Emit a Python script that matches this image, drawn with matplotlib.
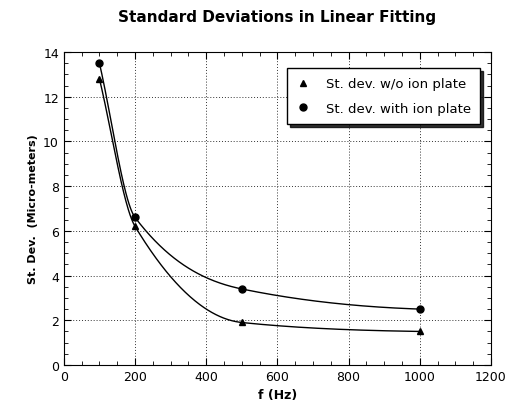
import numpy as np
import matplotlib.pyplot as plt
from matplotlib.ticker import MultipleLocator

# Data
freq = [100, 200, 500, 1000]
sd_without = [12.8, 6.2, 1.9, 1.5]
sd_with = [13.5, 6.6, 3.4, 2.5]


# Smooth monotone curve through the points (PCHIP)
def pchip(x, y, xs):
    x = np.asarray(x, float)
    y = np.asarray(y, float)
    h = np.diff(x)
    d = np.diff(y) / h
    m = np.zeros_like(y)
    for k in range(1, len(x) - 1):
        if d[k - 1] * d[k] > 0:
            w1 = 2 * h[k] + h[k - 1]
            w2 = h[k] + 2 * h[k - 1]
            m[k] = (w1 + w2) / (w1 / d[k - 1] + w2 / d[k])
    m[0] = d[0]
    m[-1] = d[-1] * 0.3
    ys = np.empty_like(xs)
    for i, xv in enumerate(xs):
        k = min(np.searchsorted(x, xv) - 1, len(x) - 2)
        k = max(k, 0)
        t = (xv - x[k]) / h[k]
        h00 = 2 * t**3 - 3 * t**2 + 1
        h10 = t**3 - 2 * t**2 + t
        h01 = -2 * t**3 + 3 * t**2
        h11 = t**3 - t**2
        ys[i] = h00 * y[k] + h10 * h[k] * m[k] + h01 * y[k + 1] + h11 * h[k] * m[k + 1]
    return ys


xs = np.linspace(freq[0], freq[-1], 400)

fig = plt.figure(figsize=(5.19, 4.14), dpi=100)
ax = fig.add_axes([0.123, 0.116, 0.823, 0.756])

ax.plot(xs, pchip(freq, sd_without, xs), color='black', lw=1.0)
ax.plot(xs, pchip(freq, sd_with, xs), color='black', lw=1.0)
ax.plot(freq, sd_without, '^', color='black', ms=5, label='St. dev. w/o ion plate')
ax.plot(freq, sd_with, 'o', color='black', ms=5, label='St. dev. with ion plate')

ax.set_xlim(0, 1200)
ax.set_ylim(0, 14)
ax.xaxis.set_major_locator(MultipleLocator(200))
ax.xaxis.set_minor_locator(MultipleLocator(50))
ax.yaxis.set_major_locator(MultipleLocator(2))
ax.yaxis.set_minor_locator(MultipleLocator(0.5))
ax.tick_params(which='both', direction='in', top=True, right=True, labelsize=9)
ax.tick_params(which='major', length=5)
ax.tick_params(which='minor', length=3)
ax.grid(True, which='major', linestyle=(0, (1, 2)), color='#333333', lw=0.7)

ax.set_title('Standard Deviations in Linear Fitting', fontsize=11, fontweight='bold', pad=22)
ax.set_xlabel('f (Hz)', fontsize=9, fontweight='bold')
ax.set_ylabel('St. Dev.  (Micro-meters)', fontsize=8, fontweight='bold')

leg = ax.legend(loc='upper right', bbox_to_anchor=(0.99, 0.97), fontsize=9.5,
                frameon=True, fancybox=False, shadow={'color': 'black', 'alpha': 0.8},
                handlelength=1.0, handletextpad=1.2, borderpad=0.7, labelspacing=0.9)
leg.get_frame().set_edgecolor('black')
leg.get_frame().set_linewidth(1.0)
leg.get_frame().set_alpha(1.0)

fig.savefig('out.png', dpi=100)
